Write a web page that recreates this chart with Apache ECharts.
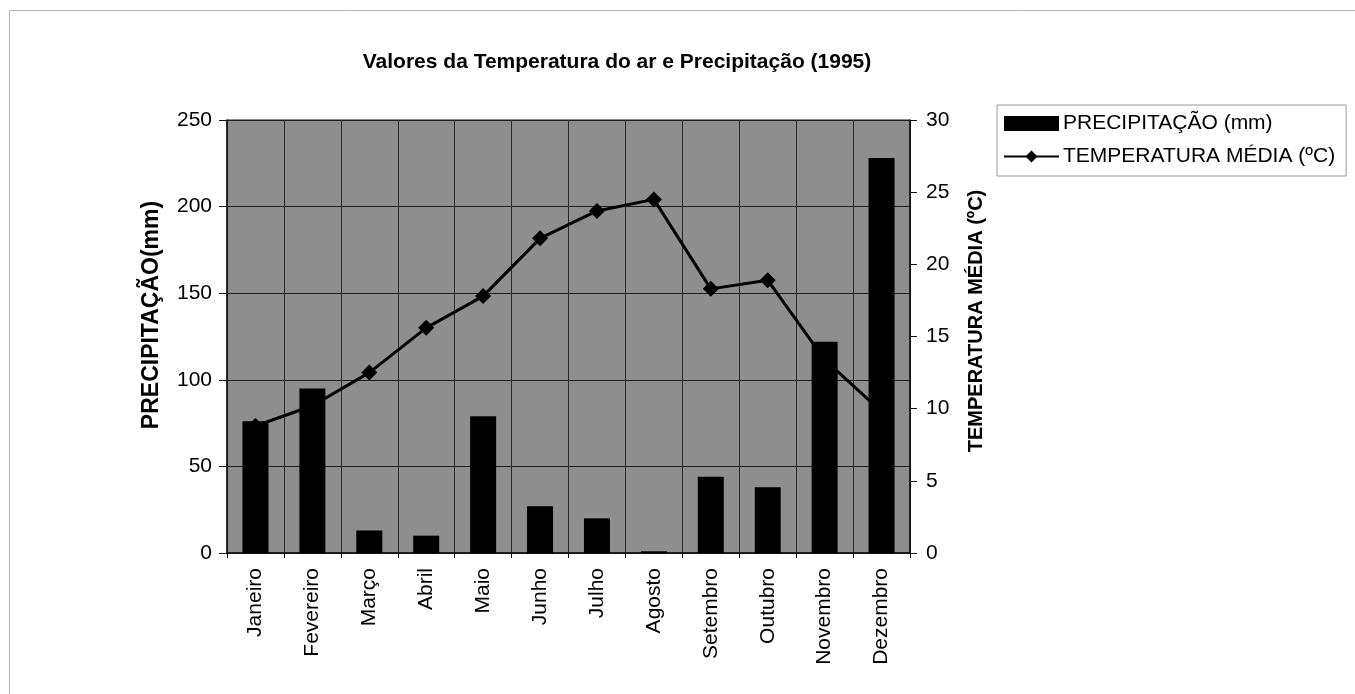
<!DOCTYPE html>
<html>
<head>
<meta charset="utf-8">
<script src="https://cdn.jsdelivr.net/npm/echarts@6/dist/echarts.min.js"></script>
<style>
  html, body { margin: 0; padding: 0; background: #fff; }
  #chart { width: 1355px; height: 694px; }
</style>
</head>
<body>
<div id="chart"></div>
<script>
// Monthly climate values, 1995
const months = ['Janeiro', 'Fevereiro', 'Março', 'Abril', 'Maio', 'Junho',
                'Julho', 'Agosto', 'Setembro', 'Outubro', 'Novembro', 'Dezembro'];
const precipitation = [76, 95, 13, 10, 79, 27, 20, 1, 44, 38, 122, 228];
const temperature = [8.8, 10.2, 12.5, 15.6, 17.8, 21.8, 23.7, 24.5, 18.3, 18.9, 13.4, 9.8];
const precipTicks = [0, 50, 100, 150, 200, 250];
const tempTicks = [0, 5, 10, 15, 20, 25, 30];

const FONT = '"Liberation Sans", Arial, sans-serif';
const chart = echarts.init(document.getElementById('chart'), null, { renderer: 'canvas' });

chart.setOption({
  animation: false,
  backgroundColor: '#ffffff',
  textStyle: { fontFamily: FONT, color: '#000' },
  title: {
    text: 'Valores da Temperatura do ar e Precipitação (1995)',
    left: 612,
    top: 47,
    textAlign: 'center',
    textStyle: { fontFamily: FONT, fontSize: 21, fontWeight: 'bold', color: '#000' }
  },
  legend: {
    orient: 'vertical',
    left: 997,
    top: 105,
    padding: [8, 11, 9, 6],
    itemGap: 12,
    itemWidth: 55,
    itemHeight: 15,
    borderColor: '#9a9a9a',
    borderWidth: 1,
    backgroundColor: '#fff',
    textStyle: { fontFamily: FONT, fontSize: 21, color: '#000', padding: [0, 0, 0, -1] },
    data: [
      { name: 'PRECIPITAÇÃO (mm)', icon: 'rect' },
      { name: 'TEMPERATURA MÉDIA (ºC)' }
    ]
  },
  grid: {
    left: 227,
    top: 120,
    width: 683,
    height: 433,
    show: true,
    backgroundColor: '#8e8e8e',
    borderColor: '#1a1a1a',
    borderWidth: 1
  },
  xAxis: {
    type: 'category',
    data: months,
    boundaryGap: true,
    axisLine: { lineStyle: { color: '#111', width: 1.5 } },
    axisTick: { show: true, length: 5, alignWithLabel: false, lineStyle: { color: '#111' } },
    splitLine: { show: true, lineStyle: { color: '#2a2a2a', width: 1 } },
    axisLabel: {
      rotate: 90,
      margin: 15,
      fontFamily: FONT,
      fontSize: 21,
      color: '#000',
      interval: 0
    }
  },
  yAxis: [
    {
      type: 'value',
      min: precipTicks[0],
      max: precipTicks[precipTicks.length - 1],
      interval: 50,
      position: 'left',
      axisLine: { show: true, lineStyle: { color: '#111', width: 1.5 } },
      axisTick: { show: true, length: 8, lineStyle: { color: '#111' } },
      splitLine: { show: true, lineStyle: { color: '#1e1e1e', width: 1 } },
      axisLabel: { margin: 15, fontFamily: FONT, fontSize: 21, color: '#000' }
    },
    {
      type: 'value',
      min: tempTicks[0],
      max: tempTicks[tempTicks.length - 1],
      interval: 5,
      position: 'right',
      axisLine: { show: true, lineStyle: { color: '#111', width: 1.5 } },
      axisTick: { show: true, length: 7, lineStyle: { color: '#111' } },
      splitLine: { show: false },
      axisLabel: { margin: 16, fontFamily: FONT, fontSize: 21, color: '#000' }
    }
  ],
  series: [
    {
      name: 'PRECIPITAÇÃO (mm)',
      type: 'bar',
      yAxisIndex: 0,
      data: precipitation,
      barWidth: 26,
      z: 4,
      itemStyle: { color: '#000' }
    },
    {
      name: 'TEMPERATURA MÉDIA (ºC)',
      type: 'line',
      yAxisIndex: 1,
      data: temperature,
      z: 3,
      symbol: 'diamond',
      symbolSize: 16,
      lineStyle: { color: '#000', width: 3 },
      itemStyle: { color: '#000' }
    }
  ],
  graphic: [
    // thin frame on the top and left edges of the chart area
    { type: 'line', shape: { x1: 9, y1: 10.5, x2: 1355, y2: 10.5 }, style: { stroke: '#b5b5b5', lineWidth: 1 } },
    { type: 'line', shape: { x1: 9.5, y1: 10, x2: 9.5, y2: 694 }, style: { stroke: '#b5b5b5', lineWidth: 1 } },
    // axis names
    {
      type: 'text',
      x: 152, y: 315,
      rotation: Math.PI / 2,
      style: {
        text: 'PRECIPITAÇÃO(mm)',
        fontFamily: FONT, fontSize: 23, fontWeight: 'bold', fill: '#000',
        textAlign: 'center', textVerticalAlign: 'middle'
      }
    },
    {
      type: 'text',
      x: 976, y: 321,
      rotation: Math.PI / 2,
      style: {
        text: 'TEMPERATURA MÉDIA (ºC)',
        fontFamily: FONT, fontSize: 20, fontWeight: 'bold', fill: '#000',
        textAlign: 'center', textVerticalAlign: 'middle'
      }
    }
  ]
});
</script>
</body>
</html>
